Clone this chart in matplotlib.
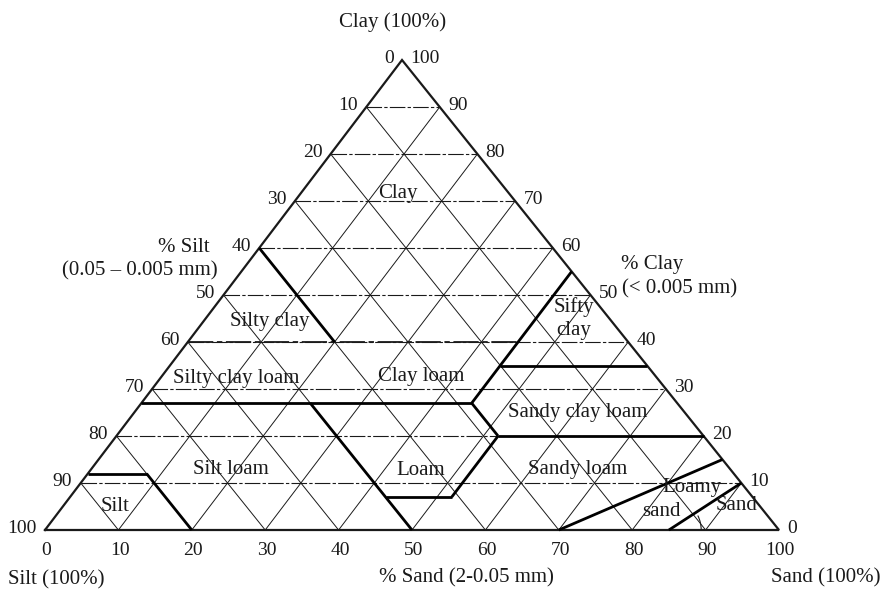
import matplotlib
matplotlib.use("Agg")
import matplotlib.pyplot as plt
from matplotlib.patches import Arc
import numpy as np

# --------------------------
# Data (sand %, clay %) -- silt is the remainder
# --------------------------
GRID_STEPS = [10, 20, 30, 40, 50, 60, 70, 80, 90]
TICK_VALUES = [0, 10, 20, 30, 40, 50, 60, 70, 80, 90, 100]

# class boundaries, each segment as (sand list, clay list)
BOUNDARIES = [
    ([0, 20], [60, 40]),     # silt = 40 : silty clay / clay
    ([0, 45], [27, 27]),     # clay = 27
    ([45, 45], [27, 55]),    # sand = 45
    ([45, 65], [35, 35]),    # clay = 35
    ([45, 52], [27, 20]),    # silt = 28
    ([52, 80], [20, 20]),    # clay = 20
    ([52, 52], [20, 7]),     # sand = 52
    ([43, 52], [7, 7]),      # clay = 7
    ([23, 50], [27, 0]),     # silt = 50
    ([0, 8], [12, 12]),      # clay = 12
    ([8, 20], [12, 0]),      # silt = 80
    ([70, 85], [0, 15]),     # loamy sand / sandy loam
    ([85, 90], [0, 10]),     # sand / loamy sand
]

# lighter boundaries drawn over the grid
MINOR_BOUNDARIES = [
    ([0, 45], [40, 40]),     # clay = 40
]

CLASS_NAMES = ["Clay", "Silty clay", "Silty clay loam", "Clay loam", "Sifty\nclay",
               "Sandy clay loam", "Silt loam", "Loam", "Sandy loam", "Silt",
               "Loamy", "sand", "Sand"]
CLASS_SAND = [13.2, 9.1, 10.3, 35.4, 50.2, 60.5, 19.1, 45.1, 66.4, 7.1, 83.7, 82.0, 91.7]
CLASS_CLAY = [71.7, 44.3, 32.3, 32.6, 45.0, 24.9, 12.8, 12.6, 12.8, 4.9, 9.1, 4.0, 5.3]

# --------------------------
# Geometry helpers
# --------------------------
SKEW = 0.4864  # scanned triangle apex sits a little left of centre


def tern(sand, clay):
    sand = np.asarray(sand, dtype=float)
    clay = np.asarray(clay, dtype=float)
    return sand + SKEW * clay, clay


FONT = "Liberation Serif"
W, H = 881, 589

fig = plt.figure(figsize=(W / 100, H / 100), dpi=100)
ax = fig.add_axes([45 / W, (H - 530) / H, 734 / W, 470 / H])
ax.set_xlim(0, 100)
ax.set_ylim(0, 100)
ax.axis("off")

ink = "#1a1a1a"
hdash = (0, (14, 2, 3, 2))

# grid
for v in GRID_STEPS:
    x, y = tern([0, 100 - v], [v, v])          # clay constant
    ax.plot(x, y, color=ink, lw=0.8, ls=hdash, clip_on=False)
    x, y = tern([v, v], [0, 100 - v])          # sand constant
    ax.plot(x, y, color=ink, lw=0.7, clip_on=False)
    x, y = tern([100 - v, 0], [0, 100 - v])    # silt constant
    ax.plot(x, y, color=ink, lw=0.7, clip_on=False)

# outline
x, y = tern([0, 100, 0, 0], [0, 0, 100, 0])
ax.plot(x, y, color=ink, lw=1.6, clip_on=False, solid_joinstyle="miter")

# boundaries
for s, c in MINOR_BOUNDARIES:
    x, y = tern(s, c)
    ax.plot(x, y, color=ink, lw=1.3, ls=hdash, clip_on=False)
for s, c in BOUNDARIES:
    x, y = tern(s, c)
    ax.plot(x, y, color="black", lw=2.0, clip_on=False, solid_capstyle="butt")

# small angle mark near the sand corner
ax0, ay0 = tern(85, 0)
ax.add_patch(Arc((float(ax0), float(ay0)), 2 * 4.4, 2 * 6.9, theta1=0, theta2=38,
                 color=ink, lw=0.8))

# class labels
for name, s, c in zip(CLASS_NAMES, CLASS_SAND, CLASS_CLAY):
    x, y = tern(s, c)
    ax.text(x, y, name, ha="center", va="center", fontsize=15, family=FONT,
            color=ink, linespacing=1.35)

# edge tick labels
for v in TICK_VALUES:
    # left edge: % silt
    x, y = tern(0, 100 - v)
    ax.annotate(str(v), (x, y), xytext=(-6, 1), textcoords="offset points",
                ha="right", va="center", fontsize=14, family=FONT, color=ink)
    # right edge: % clay
    x, y = tern(100 - v, v)
    ax.annotate(str(v), (x, y), xytext=(6, 1), textcoords="offset points",
                ha="left", va="center", fontsize=14, family=FONT, color=ink)
    # bottom: % sand
    x, y = tern(v, 0)
    ax.annotate(str(v), (x, y), xytext=(1, -15), textcoords="offset points",
                ha="center", va="center", fontsize=14, family=FONT, color=ink)


def ftext(px, py, s, ha="center"):
    fig.text(px / W, 1 - py / H, s, ha=ha, va="center", fontsize=15,
             family=FONT, color=ink)


ftext(393, 22, "Clay (100%)")
ftext(184, 247, "% Silt")
ftext(140, 271, "(0.05 – 0.005 mm)")
ftext(652, 265, "% Clay")
ftext(622, 289, "(< 0.005 mm)", ha="left")
ftext(56, 580, "Silt (100%)")
ftext(466, 578, "% Sand (2-0.05 mm)")
ftext(826, 578, "Sand (100%)")

fig.savefig("out.png", dpi=100, facecolor="white")
